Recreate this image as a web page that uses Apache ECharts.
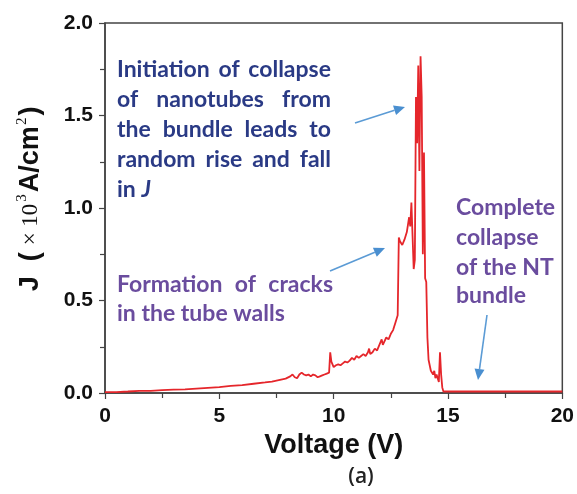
<!DOCTYPE html>
<html>
<head>
<meta charset="utf-8">
<script src="https://cdn.jsdelivr.net/npm/echarts@6/dist/echarts.min.js"></script>
<style>
  html, body { margin: 0; padding: 0; background: #fff; }
  #chart { width: 577px; height: 494px; }
</style>
</head>
<body>
<div id="chart"></div>
<script>
// J-V curve
const voltage = [
  0, 0.5, 1, 1.5, 2, 2.5, 3, 3.5, 4, 4.5, 5, 5.5, 6, 6.5, 7, 7.3, 7.6, 7.9,
  8.1, 8.2, 8.3, 8.4, 8.5, 8.6, 8.7, 8.8, 8.9, 9.0, 9.1, 9.2, 9.3, 9.4, 9.5, 9.6, 9.7, 9.8,
  9.85, 9.9, 10.0, 10.1, 10.2, 10.3, 10.4, 10.5, 10.6, 10.7, 10.8, 10.9, 11.0, 11.1, 11.2,
  11.3, 11.4, 11.5, 11.55, 11.6, 11.7, 11.8, 11.9, 12.0, 12.1, 12.15, 12.2, 12.3, 12.4,
  12.5, 12.6, 12.7, 12.75, 12.8, 12.85, 12.9, 13.0, 13.1, 13.2, 13.3, 13.35, 13.4, 13.45,
  13.5, 13.55, 13.6, 13.65, 13.7, 13.75, 13.8, 13.85, 13.9, 13.95, 14.0, 14.05, 14.1,
  14.15, 14.25, 14.35, 14.4, 14.45, 14.5, 14.6, 14.65, 14.7, 14.75, 14.8, 20
];
const current = [
  0.005, 0.005, 0.008, 0.012, 0.012, 0.015, 0.018, 0.02, 0.024, 0.028, 0.032, 0.038, 0.043, 0.05, 0.057, 0.062, 0.07, 0.078,
  0.09, 0.1, 0.085, 0.08, 0.1, 0.11, 0.1, 0.095, 0.1, 0.09, 0.1, 0.095, 0.085, 0.09, 0.095, 0.1, 0.105, 0.11,
  0.22, 0.17, 0.14, 0.15, 0.155, 0.15, 0.16, 0.17, 0.165, 0.175, 0.19, 0.18, 0.2, 0.19, 0.2,
  0.21, 0.2, 0.22, 0.24, 0.21, 0.22, 0.24, 0.23, 0.26, 0.29, 0.26, 0.27, 0.3, 0.29,
  0.32, 0.34, 0.38, 0.4, 0.42, 0.84, 0.82, 0.8, 0.83, 0.87, 0.95, 0.9, 1.03, 0.85,
  0.67, 0.72, 1.6, 1.35, 1.77, 1.2, 1.82, 1.6, 0.75, 1.3, 0.62, 0.6, 0.3,
  0.18, 0.12, 0.1, 0.12, 0.08, 0.1, 0.06, 0.22, 0.1, 0.03, 0.008, 0.008
];
const xTicks = [0, 5, 10, 15, 20];
const yTicks = [0, 0.5, 1.0, 1.5, 2.0];

const noteBlue = ['Initiation of collapse', 'of nanotubes from', 'the bundle leads to', 'random rise and fall'];
const noteCracks = ['Formation of cracks', 'in the tube walls'];
const noteEnd = ['Complete', 'collapse', 'of the NT', 'bundle'];

const chart = echarts.init(document.getElementById('chart'));

const NOTE_FONT = 'bold 23px Lato';
const ctx = document.createElement('canvas').getContext('2d');
ctx.font = NOTE_FONT;

// spread words of one line between x0 and x1 (justified text)
function justify(line, x0, x1, y, color) {
  const words = line.split(' ');
  const widths = words.map(w => ctx.measureText(w).width);
  const sum = widths.reduce((a, b) => a + b, 0);
  const gap = words.length > 1 ? (x1 - x0 - sum) / (words.length - 1) : 0;
  let x = x0;
  return words.map((w, i) => {
    const el = {
      type: 'text', x: x, y: y,
      style: { text: w, font: NOTE_FONT, fill: color, align: 'left', verticalAlign: 'middle' }
    };
    x += widths[i] + gap;
    return el;
  });
}
function plain(text, x, y, color) {
  return { type: 'text', x: x, y: y,
    style: { text: text, font: NOTE_FONT, fill: color, align: 'left', verticalAlign: 'middle' } };
}
function arrow(x1, y1, x2, y2) {
  const a = Math.atan2(y2 - y1, x2 - x1);
  const len = 11, half = 5;
  const bx = x2 - len * Math.cos(a), by = y2 - len * Math.sin(a);
  return [
    { type: 'line', shape: { x1: x1, y1: y1, x2: bx, y2: by },
      style: { stroke: '#5b9bd5', lineWidth: 1.6 } },
    { type: 'polygon', shape: { points: [
        [x2, y2],
        [bx + half * Math.sin(a), by - half * Math.cos(a)],
        [bx - half * Math.sin(a), by + half * Math.cos(a)]
      ] }, style: { fill: '#4a8fd0' } }
  ];
}

const BLUE = '#2a3a85', PURPLE = '#6a4c9e';
let graphics = [];
noteBlue.forEach((l, i) => { graphics = graphics.concat(justify(l, 117, 331, 70 + i * 30, BLUE)); });
graphics.push({ type: 'text', x: 117, y: 190,
  style: { text: '{n|in }{i|J}', fill: BLUE, verticalAlign: 'middle',
    rich: { n: { font: NOTE_FONT, fill: BLUE }, i: { font: 'italic bold 23px Lato', fill: BLUE } } } });
graphics = graphics.concat(justify(noteCracks[0], 117, 333, 285, PURPLE));
graphics.push(plain(noteCracks[1], 117, 314, PURPLE));
noteEnd.forEach((l, i) => { graphics.push(plain(l, 456, [208, 238, 268, 296][i], PURPLE)); });
graphics = graphics.concat(arrow(355, 123, 405, 107));
graphics = graphics.concat(arrow(330, 271, 385, 248));
graphics = graphics.concat(arrow(487, 315, 478, 380));

// y axis title, rotated
graphics.push({
  type: 'text', x: 31, y: 199, rotation: Math.PI / 2,
  style: {
    text: '{b|J  (}{s|× 10}{sup|3}{b|A/cm}{sup|2}{b|)}',
    align: 'center', verticalAlign: 'middle',
    rich: {
      b: { font: 'bold 27px Arial, "Liberation Sans"', fill: '#111', lineHeight: 32 },
      s: { font: '23px "Liberation Serif", "DejaVu Serif"', fill: '#111', lineHeight: 32, padding: [0, 1, 0, 7] },
      sup: { font: '15px "Liberation Serif"', fill: '#111', verticalAlign: 'top', lineHeight: 32, padding: [0, 2, 0, 1] }
    }
  }
});
graphics.push({ type: 'text', x: 361, y: 477,
  style: { text: '(a)', font: '600 21px "Open Sans"', fill: '#222', align: 'center', verticalAlign: 'middle' } });

const axisText = { color: '#111', fontFamily: 'Arial, "Liberation Sans"', fontWeight: 'bold', fontSize: 21 };

chart.setOption({
  animation: false,
  grid: { left: 105, right: 12, top: 23, bottom: 101, show: true, borderColor: '#444', borderWidth: 1.5 },
  xAxis: {
    type: 'value', min: xTicks[0], max: xTicks[xTicks.length - 1], interval: 5,
    name: 'Voltage (V)', nameLocation: 'middle', nameGap: 35,
    nameTextStyle: { color: '#111', fontFamily: 'Arial, "Liberation Sans"', fontWeight: 'bold', fontSize: 27 },
    axisLine: { lineStyle: { color: '#444', width: 1.5 } },
    axisTick: { show: true, length: 6, lineStyle: { color: '#444', width: 1.2 } },
    minorTick: { show: true, splitNumber: 2, length: 5, lineStyle: { color: '#444', width: 1.2 } },
    axisLabel: Object.assign({ margin: 13 }, axisText),
    splitLine: { show: false }
  },
  yAxis: {
    type: 'value', min: yTicks[0], max: yTicks[yTicks.length - 1], interval: 0.5,
    axisLine: { show: true, lineStyle: { color: '#444', width: 1.5 } },
    axisTick: { show: true, length: 6, lineStyle: { color: '#444', width: 1.2 } },
    minorTick: { show: true, splitNumber: 2, length: 5, lineStyle: { color: '#444', width: 1.2 } },
    axisLabel: Object.assign({ margin: 12, formatter: v => v.toFixed(1) }, axisText),
    splitLine: { show: false }
  },
  series: [{
    type: 'line',
    data: voltage.map((v, i) => [v, current[i]]),
    showSymbol: false,
    lineStyle: { color: '#e5262b', width: 1.8 },
    z: 3
  }],
  graphic: graphics
});
</script>
</body>
</html>
